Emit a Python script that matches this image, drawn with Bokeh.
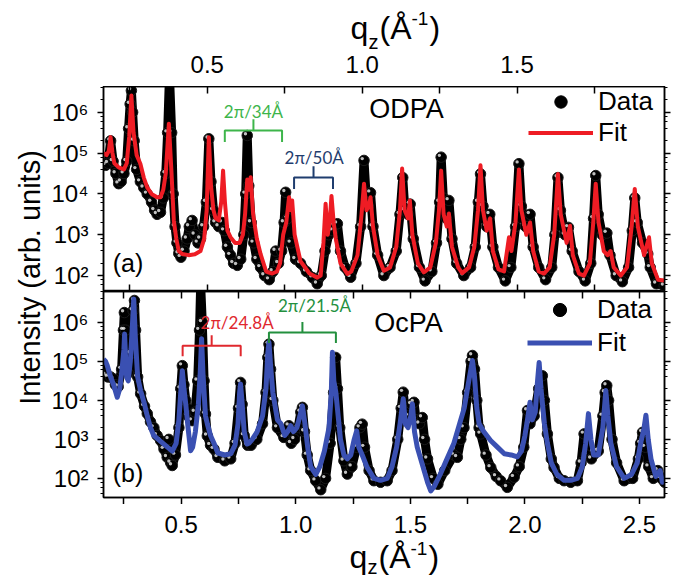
import numpy as np
from math import pi
from bokeh.plotting import figure
from bokeh.models import (Range1d, LinearAxis, LogAxis, LogTicker, FixedTicker, LogScale,
                          CustomJSTickFormatter, Label, Legend, LegendItem)
from bokeh.layouts import row, column
from bokeh.embed import file_html
from bokeh.resources import INLINE

# ---------------------------------------------------------------------------
# Specular reflectivity profiles, (q_z [1/Å], log10 intensity)
# ---------------------------------------------------------------------------
odpa_data = [
    (0.165, 4.72), (0.172, 4.70), (0.180, 4.75), (0.188, 5.30), (0.196, 4.80), (0.205, 4.50),
    (0.214, 4.25), (0.222, 4.30), (0.231, 4.50), (0.240, 4.80), (0.246, 5.60), (0.251, 6.20),
    (0.255, 6.53), (0.259, 6.00), (0.264, 5.30), (0.272, 4.60), (0.284, 4.30), (0.295, 4.15),
    (0.306, 4.00), (0.320, 3.80), (0.330, 3.60), (0.338, 3.50), (0.349, 3.55), (0.358, 3.90),
    (0.366, 4.50), (0.372, 5.50), (0.378, 6.90), (0.385, 5.50), (0.390, 4.00), (0.396, 3.20),
    (0.402, 2.80), (0.408, 2.54), (0.415, 2.45), (0.425, 2.60), (0.435, 2.90), (0.442, 3.20),
    (0.451, 3.35), (0.460, 3.00), (0.470, 2.80), (0.478, 2.90), (0.488, 3.20), (0.497, 3.80),
    (0.505, 5.35), (0.512, 4.30), (0.520, 3.60), (0.527, 3.30), (0.537, 3.20), (0.548, 3.30),
    (0.555, 3.10), (0.565, 2.70), (0.575, 2.50), (0.585, 2.30), (0.597, 2.25), (0.608, 2.40),
    (0.618, 3.00), (0.624, 4.00), (0.629, 5.43), (0.634, 4.20), (0.642, 3.30), (0.650, 2.80),
    (0.660, 2.40), (0.672, 2.20), (0.685, 2.00), (0.700, 1.90), (0.712, 2.10), (0.721, 2.60),
    (0.730, 2.30), (0.740, 2.60), (0.748, 3.30), (0.753, 4.04), (0.760, 3.40), (0.770, 2.80),
    (0.785, 2.40), (0.801, 2.30), (0.820, 2.10), (0.840, 1.95), (0.855, 1.80), (0.868, 2.00),
    (0.880, 2.60), (0.892, 3.00), (0.905, 3.10), (0.920, 3.27), (0.930, 2.60), (0.945, 2.20),
    (0.963, 1.96), (0.980, 2.30), (0.995, 3.20), (1.006, 4.82), (1.014, 3.80), (1.020, 3.70),
    (1.027, 4.03), (1.035, 3.20), (1.050, 2.50), (1.070, 2.00), (1.090, 2.20), (1.110, 2.60),
    (1.122, 3.50), (1.131, 4.40), (1.138, 3.60), (1.148, 3.50), (1.155, 3.75), (1.165, 2.90),
    (1.185, 2.20), (1.203, 1.87), (1.225, 2.10), (1.240, 2.80), (1.250, 3.80), (1.255, 4.90),
    (1.262, 3.90), (1.272, 3.40), (1.280, 3.84), (1.290, 2.90), (1.305, 2.30), (1.328, 2.00),
    (1.350, 2.20), (1.365, 2.70), (1.375, 3.80), (1.382, 4.49), (1.390, 3.70), (1.402, 3.20),
    (1.412, 3.50), (1.422, 2.70), (1.440, 2.20), (1.462, 1.87), (1.480, 2.20), (1.495, 3.20),
    (1.506, 4.74), (1.514, 3.70), (1.528, 3.20), (1.542, 3.50), (1.552, 2.70), (1.570, 2.20),
    (1.592, 1.90), (1.612, 2.20), (1.622, 3.00), (1.632, 4.40), (1.640, 3.60), (1.655, 3.00),
    (1.666, 3.18), (1.678, 2.60), (1.700, 2.10), (1.720, 1.87), (1.738, 2.30), (1.747, 3.40),
    (1.754, 4.45), (1.762, 3.50), (1.775, 3.00), (1.790, 3.04), (1.800, 2.50), (1.820, 2.00),
    (1.840, 1.85), (1.860, 2.20), (1.872, 3.10), (1.880, 3.90), (1.888, 3.30), (1.905, 2.80),
    (1.922, 2.53), (1.930, 2.20), (1.950, 1.80), (1.975, 1.75),
]

odpa_fit = [
    (0.165, 5.00), (0.175, 4.95), (0.182, 5.05), (0.188, 5.39), (0.194, 5.00), (0.200, 4.75),
    (0.214, 4.65), (0.231, 4.60), (0.240, 4.75), (0.248, 5.40), (0.255, 6.41), (0.262, 5.50),
    (0.272, 4.95), (0.284, 4.74), (0.295, 4.40), (0.306, 4.16), (0.320, 4.00), (0.338, 3.92),
    (0.349, 3.92), (0.358, 4.10), (0.366, 4.50), (0.376, 5.72), (0.384, 4.60), (0.392, 3.35),
    (0.400, 2.90), (0.408, 2.60), (0.419, 2.53), (0.440, 2.50), (0.460, 2.52), (0.478, 2.60),
    (0.490, 2.90), (0.498, 3.60), (0.505, 5.39), (0.512, 4.20), (0.520, 3.60), (0.527, 3.40),
    (0.537, 3.35), (0.545, 3.80), (0.551, 4.57), (0.557, 3.80), (0.565, 3.10), (0.575, 2.94),
    (0.590, 2.80), (0.605, 2.80), (0.615, 3.00), (0.622, 3.50), (0.629, 4.35), (0.635, 4.10),
    (0.640, 4.41), (0.648, 3.50), (0.660, 2.90), (0.672, 2.53), (0.690, 2.10), (0.710, 2.05),
    (0.725, 2.10), (0.735, 2.30), (0.745, 3.00), (0.755, 3.30), (0.764, 3.92), (0.769, 3.60),
    (0.774, 3.84), (0.782, 3.00), (0.801, 2.35), (0.830, 2.05), (0.855, 1.95), (0.866, 2.00),
    (0.875, 2.80), (0.882, 3.76), (0.889, 3.00), (0.895, 3.30), (0.901, 3.95), (0.908, 3.30),
    (0.915, 2.90), (0.930, 2.30), (0.952, 2.04), (0.965, 2.10), (0.985, 2.50), (0.998, 3.50),
    (1.006, 4.25), (1.014, 3.60), (1.022, 3.70), (1.027, 3.92), (1.035, 3.20), (1.050, 2.50),
    (1.070, 2.12), (1.090, 2.20), (1.110, 2.70), (1.122, 3.60), (1.129, 4.62), (1.137, 3.60),
    (1.148, 3.40), (1.154, 3.84), (1.162, 3.00), (1.180, 2.30), (1.199, 2.08), (1.220, 2.20),
    (1.238, 2.80), (1.248, 3.60), (1.255, 4.57), (1.263, 3.50), (1.273, 3.20), (1.280, 3.52),
    (1.290, 2.70), (1.310, 2.20), (1.323, 2.06), (1.345, 2.20), (1.362, 2.70), (1.374, 3.60),
    (1.382, 4.70), (1.390, 3.60), (1.402, 3.10), (1.413, 3.40), (1.422, 2.60), (1.440, 2.15),
    (1.458, 2.10), (1.474, 2.94), (1.482, 2.60), (1.495, 3.30), (1.506, 4.60), (1.514, 3.60),
    (1.530, 3.00), (1.542, 3.30), (1.552, 2.60), (1.570, 2.10), (1.587, 2.05), (1.605, 2.20),
    (1.620, 3.00), (1.632, 4.49), (1.641, 3.50), (1.660, 2.80), (1.671, 3.22), (1.680, 2.50),
    (1.700, 2.05), (1.716, 2.00), (1.735, 2.30), (1.746, 3.30), (1.754, 4.25), (1.763, 3.30),
    (1.780, 2.60), (1.792, 2.50), (1.802, 2.60), (1.812, 2.20), (1.835, 2.00), (1.855, 2.20),
    (1.870, 3.20), (1.880, 4.12), (1.890, 3.20), (1.910, 2.50), (1.926, 2.94), (1.935, 2.30),
    (1.955, 1.90), (1.975, 1.88),
]

ocpa_data = [
    (0.161, 4.80), (0.170, 4.65), (0.180, 4.60), (0.192, 4.60), (0.205, 4.55), (0.213, 4.40),
    (0.225, 4.35), (0.240, 4.80), (0.248, 5.80), (0.252, 6.25), (0.257, 5.80), (0.262, 5.00),
    (0.269, 4.70), (0.280, 5.20), (0.290, 6.30), (0.296, 6.56), (0.301, 5.80), (0.310, 4.60),
    (0.323, 4.17), (0.340, 3.85), (0.352, 3.66), (0.366, 3.45), (0.381, 3.30), (0.395, 3.10),
    (0.410, 2.97), (0.425, 2.75), (0.439, 2.54), (0.446, 3.00), (0.454, 2.40), (0.461, 2.33),
    (0.475, 2.60), (0.490, 3.30), (0.498, 4.30), (0.505, 4.89), (0.512, 4.40), (0.520, 4.00),
    (0.530, 3.60), (0.548, 3.48), (0.560, 3.70), (0.572, 4.50), (0.580, 5.80), (0.585, 6.95),
    (0.592, 6.00), (0.600, 4.50), (0.606, 3.65), (0.614, 3.09), (0.628, 2.85), (0.643, 2.75),
    (0.660, 2.54), (0.690, 2.45), (0.716, 2.50), (0.735, 2.90), (0.750, 3.80), (0.759, 4.46),
    (0.766, 3.90), (0.775, 3.10), (0.790, 2.85), (0.805, 2.85), (0.830, 3.00), (0.855, 3.40),
    (0.870, 4.20), (0.878, 5.10), (0.883, 5.44), (0.890, 4.80), (0.900, 4.00), (0.920, 3.30),
    (0.948, 3.05), (0.970, 3.35), (0.980, 2.90), (0.995, 3.00), (1.010, 3.30), (1.022, 3.70),
    (1.029, 3.82), (1.038, 3.20), (1.050, 2.60), (1.065, 2.20), (1.087, 1.94), (1.109, 1.71),
    (1.130, 2.00), (1.150, 2.90), (1.165, 4.20), (1.174, 5.10), (1.182, 4.30), (1.192, 3.30),
    (1.210, 2.45), (1.225, 2.11), (1.245, 2.30), (1.265, 2.80), (1.280, 3.30), (1.290, 3.39),
    (1.300, 2.80), (1.320, 2.20), (1.341, 1.94), (1.370, 1.90), (1.399, 1.94), (1.420, 2.20),
    (1.445, 3.00), (1.460, 3.80), (1.469, 4.21), (1.478, 3.70), (1.490, 3.60), (1.505, 3.90),
    (1.516, 3.95), (1.525, 3.50), (1.540, 3.40), (1.552, 3.56), (1.562, 3.00), (1.575, 2.50),
    (1.600, 2.00), (1.620, 1.85), (1.650, 2.20), (1.690, 2.60), (1.705, 2.54), (1.720, 3.00),
    (1.734, 3.30), (1.750, 4.20), (1.765, 5.00), (1.771, 5.15), (1.780, 4.80), (1.790, 4.00),
    (1.800, 3.30), (1.807, 3.14), (1.830, 2.60), (1.851, 2.28), (1.875, 2.05), (1.894, 1.94),
    (1.923, 1.77), (1.953, 2.03), (1.975, 2.30), (1.995, 2.80), (2.011, 3.74), (2.022, 3.40),
    (2.040, 3.60), (2.060, 4.30), (2.076, 4.63), (2.085, 4.00), (2.098, 3.14), (2.115, 2.50),
    (2.127, 2.28), (2.150, 2.00), (2.171, 1.94), (2.200, 1.90), (2.229, 1.94), (2.245, 2.40),
    (2.258, 3.14), (2.268, 2.60), (2.290, 2.50), (2.320, 2.70), (2.340, 3.60), (2.350, 4.20),
    (2.357, 4.38), (2.365, 4.00), (2.380, 3.00), (2.400, 2.40), (2.433, 1.94), (2.470, 2.00),
    (2.495, 2.50), (2.505, 2.90), (2.513, 3.18), (2.525, 2.80), (2.540, 2.30), (2.560, 2.00),
    (2.580, 2.20), (2.595, 2.00), (2.610, 1.90),
]

ocpa_fit = [
    (0.161, 5.05), (0.170, 5.00), (0.177, 4.90), (0.192, 4.60), (0.205, 4.40), (0.221, 4.08),
    (0.232, 4.30), (0.242, 4.80), (0.250, 5.30), (0.253, 5.70), (0.258, 5.00), (0.262, 4.60),
    (0.269, 4.50), (0.278, 5.00), (0.287, 5.90), (0.293, 6.60), (0.300, 5.60), (0.310, 4.60),
    (0.323, 4.25), (0.340, 3.90), (0.352, 3.60), (0.366, 3.30), (0.380, 3.10), (0.410, 2.95),
    (0.440, 2.80), (0.461, 2.70), (0.478, 2.90), (0.490, 3.50), (0.498, 4.20), (0.505, 4.76),
    (0.512, 4.30), (0.520, 3.90), (0.530, 3.30), (0.541, 2.71), (0.550, 2.80), (0.562, 3.20),
    (0.575, 3.90), (0.583, 4.70), (0.589, 5.58), (0.595, 4.70), (0.606, 3.60), (0.614, 3.40),
    (0.628, 3.10), (0.643, 2.90), (0.660, 2.65), (0.690, 2.60), (0.716, 2.63), (0.735, 2.85),
    (0.748, 3.40), (0.755, 4.20), (0.759, 4.42), (0.765, 4.00), (0.775, 3.20), (0.787, 2.88),
    (0.796, 2.90), (0.810, 3.00), (0.832, 3.20), (0.855, 3.60), (0.870, 4.30), (0.878, 5.20),
    (0.883, 5.49), (0.890, 4.90), (0.900, 4.20), (0.920, 3.50), (0.935, 3.40), (0.952, 3.10),
    (0.965, 3.20), (0.978, 3.35), (0.990, 3.20), (1.005, 3.30), (1.018, 3.60), (1.029, 3.86),
    (1.040, 3.40), (1.052, 2.80), (1.065, 2.30), (1.087, 2.10), (1.105, 2.30), (1.125, 2.70),
    (1.145, 3.30), (1.155, 4.20), (1.160, 5.23), (1.166, 4.50), (1.175, 4.20), (1.185, 3.60),
    (1.195, 3.00), (1.210, 2.60), (1.225, 2.50), (1.240, 2.60), (1.255, 3.00), (1.266, 3.22),
    (1.275, 2.80), (1.290, 2.60), (1.310, 2.30), (1.341, 2.00), (1.370, 1.95), (1.399, 2.00),
    (1.420, 2.30), (1.440, 2.80), (1.455, 3.40), (1.469, 4.04), (1.478, 3.40), (1.490, 3.30),
    (1.502, 3.60), (1.509, 3.91), (1.518, 3.20), (1.530, 2.80), (1.545, 2.50), (1.560, 2.20),
    (1.575, 1.90), (1.589, 1.68), (1.605, 1.80), (1.630, 2.10), (1.660, 2.50), (1.690, 2.90),
    (1.715, 3.40), (1.735, 3.80), (1.755, 4.50), (1.771, 5.02), (1.780, 4.60), (1.790, 3.80),
    (1.800, 3.40), (1.820, 3.20), (1.850, 2.97), (1.880, 2.80), (1.910, 2.63), (1.940, 2.60),
    (1.967, 2.55), (1.985, 2.70), (2.000, 3.10), (2.011, 3.50), (2.022, 3.95), (2.032, 3.50),
    (2.045, 3.70), (2.055, 4.50), (2.062, 4.97), (2.070, 4.30), (2.085, 3.40), (2.098, 2.90),
    (2.115, 2.40), (2.140, 2.10), (2.171, 1.95), (2.200, 1.95), (2.229, 2.00), (2.250, 2.30),
    (2.265, 2.90), (2.277, 3.66), (2.288, 3.00), (2.300, 2.60), (2.320, 2.60), (2.340, 3.30),
    (2.353, 4.25), (2.362, 3.60), (2.375, 2.90), (2.400, 2.30), (2.433, 2.00), (2.465, 2.10),
    (2.490, 2.40), (2.505, 2.90), (2.520, 3.30), (2.528, 3.62), (2.538, 3.00), (2.550, 2.50),
    (2.571, 2.05), (2.590, 2.20), (2.600, 1.90), (2.610, 1.95),
]

# Bilayer periodicity markers: d-spacing (Å), bracket centre q, bracket level (log10 I),
# label q, label level (log10 I), colour
odpa_periods = [
    (34, 0.649, 5.55, 0.649, 6.02, "#3db54a"),
    (50, 0.843, 4.40, 0.845, 4.89, "#1f3d6e"),
]
ocpa_periods = [
    (24.8, 0.633, 5.40, 0.744, 6.00, "#e0282e"),
    (21.5, 1.029, 5.74, 1.082, 6.43, "#23903e"),
]

# Axis limits: q range and log10 intensity range for each panel
odpa_q_lim = (0.165, 1.976)
odpa_log_lim = (1.61, 6.63)
ocpa_q_lim = (0.161, 2.609)
ocpa_log_lim = (1.51, 6.79)

q_ticks = [0.25, 0.5, 0.75, 1.0, 1.25, 1.5, 1.75, 2.0, 2.25, 2.5]

# ---------------------------------------------------------------------------
FONT = "Liberation Sans"
NOTE_FONT = "Lato"
TICK_SIZE = "24px"
W_LABEL = 48
W_MAIN = 677 - W_LABEL
FRAME_W = 561
BORDER_L, BORDER_R = 55, 13

LOG_FMT = CustomJSTickFormatter(code="""
const s = {"0":"\u2070","1":"\u00b9","2":"\u00b2","3":"\u00b3","4":"\u2074",
           "5":"\u2075","6":"\u2076","7":"\u2077","8":"\u2078","9":"\u2079","-":"\u207b"};
const e = Math.round(Math.log10(tick));
return "10" + String(e).split("").map(c => s[c]).join("");
""")
HALF_FMT = CustomJSTickFormatter(code="""
const k = tick * 2;
return Math.abs(k - Math.round(k)) < 1e-6 ? tick.toFixed(1) : "";
""")
BLANK_FMT = CustomJSTickFormatter(code="return '';")


def style_axis(ax, tick_in, tick_out, standoff, labelled, minor_out=0, line=True):
    ax.axis_line_color = "black" if line else None
    ax.axis_line_width = 1.5
    ax.major_tick_line_color = "black"
    ax.major_tick_line_width = 1.5
    ax.minor_tick_line_color = "black"
    ax.minor_tick_line_width = 1
    ax.major_tick_in = tick_in
    ax.major_tick_out = tick_out
    ax.minor_tick_in = 0
    ax.minor_tick_out = minor_out
    ax.major_label_standoff = standoff
    ax.major_label_text_font = FONT
    ax.major_label_text_color = "black"
    ax.major_label_text_font_size = TICK_SIZE if labelled else "0px"


def q_axis(formatter):
    return LinearAxis(ticker=FixedTicker(ticks=q_ticks, minor_ticks=[]), formatter=formatter)


def make_panel(height, q_lim, log_lim, bottom_tick_out):
    p = figure(width=W_MAIN, height=height,
               x_range=Range1d(*q_lim), y_range=Range1d(10 ** log_lim[0], 10 ** log_lim[1]),
               y_axis_type="log", x_axis_location=None, y_axis_location=None,
               toolbar_location=None, output_backend="svg",
               min_border_left=BORDER_L, min_border_right=BORDER_R,
               min_border_top=0, min_border_bottom=bottom_tick_out)
    p.grid.visible = False
    p.outline_line_color = "black"
    p.outline_line_width = 1.5
    p.background_fill_color = "white"
    p.border_fill_color = "white"

    ax = q_axis(BLANK_FMT)
    style_axis(ax, 7, 0, 0, False)
    p.add_layout(ax, "above")
    ax = q_axis(BLANK_FMT)
    if bottom_tick_out:
        style_axis(ax, 0, bottom_tick_out, 0, False)
    else:
        style_axis(ax, 7, 0, 0, False)
    p.add_layout(ax, "below")

    for side in ("left", "right"):
        lab = side == "left"
        ax = LogAxis(ticker=LogTicker(), formatter=LOG_FMT if lab else BLANK_FMT)
        style_axis(ax, 0, 6, 9 if lab else 0, lab, minor_out=3)
        p.add_layout(ax, side)

    # shifted copies of the scales, used for the specular highlight on each sphere
    frame_h = height - bottom_tick_out
    dq = 1.8 * (q_lim[1] - q_lim[0]) / FRAME_W
    k = 10 ** (1.8 * (log_lim[1] - log_lim[0]) / frame_h)
    p.extra_x_ranges = {"hl": Range1d(q_lim[0] + dq, q_lim[1] + dq)}
    p.extra_y_ranges = {"hl": Range1d(10 ** log_lim[0] / k, 10 ** log_lim[1] / k)}
    p.extra_y_scales = {"hl": LogScale()}
    return p


def draw_profiles(p, data, fit, fit_color, fit_width):
    dq, dl = zip(*data)
    fq, fl = zip(*fit)
    di = 10 ** np.array(dl)
    fi = 10 ** np.array(fl)
    p.line(list(dq), di, line_color="black", line_width=9, line_join="round")
    p.scatter(list(dq), di, marker="circle", size=10.5, fill_color="black", line_color="#1a1a1a")
    p.scatter(list(dq), di, marker="circle", size=3.4, fill_color="white", fill_alpha=0.75,
              line_color=None, x_range_name="hl", y_range_name="hl")
    fit_r = p.line(list(fq), fi, line_color=fit_color, line_width=fit_width, line_join="round")
    # legend swatch: one sphere placed outside the visible q range
    dot_r = p.scatter([-1.0], [1e4], marker="circle", size=10, fill_color="black",
                      line_color="black")
    return dot_r, fit_r


def add_legend(p, dot_r, fit_r, x, y, row_h):
    leg = Legend(items=[LegendItem(label="Data", renderers=[dot_r]),
                        LegendItem(label="Fit", renderers=[fit_r])],
                 location=(x, y), orientation="vertical",
                 border_line_color=None, background_fill_alpha=0,
                 label_text_font=FONT, label_text_font_size="26px", label_text_color="black",
                 glyph_width=65, glyph_height=row_h, label_height=row_h,
                 spacing=0, padding=0, margin=0, label_standoff=5)
    p.add_layout(leg, "center")


def add_periods(p, periods, tick):
    for d, qc, lev, lq, ll, color in periods:
        half = pi / d
        xl, xr = qc - half, qc + half
        ys = [10 ** (lev - tick), 10 ** lev, 10 ** lev, 10 ** (lev - tick)]
        p.line([xl, xl, xr, xr], ys, line_color=color, line_width=2)
        p.line([qc, qc], [10 ** lev, 10 ** (lev + tick)], line_color=color, line_width=2)
        p.add_layout(Label(x=lq, y=10 ** ll, text=f"2\u03c0/{d}\u00c5", text_align="center",
                           text_baseline="middle", text_color=color, text_font=NOTE_FONT,
                           text_font_size="17px"))


def add_text(p, x, y, text, size, align="center", baseline="middle", angle=0.0):
    p.add_layout(Label(x=x, y=y, x_units="screen", y_units="screen", text=text, angle=angle,
                       text_align=align, text_baseline=baseline, text_font=FONT,
                       text_font_size=size, text_color="black"))


def strip(width, height, x_range=None, border_top=0, border_bottom=0, side_borders=False):
    s = figure(width=width, height=height,
               x_range=x_range if x_range is not None else Range1d(0, 1),
               y_range=Range1d(0, 1), x_axis_location=None, y_axis_location=None,
               toolbar_location=None, output_backend="svg", min_border=0,
               min_border_top=border_top, min_border_bottom=border_bottom,
               min_border_left=BORDER_L if side_borders else 0,
               min_border_right=BORDER_R if side_borders else 0)
    s.grid.visible = False
    s.outline_line_color = None
    s.scatter([-5.0], [0.5], size=1, alpha=0)
    return s


def q_title(s, x0, mid, sub_dy, sup_dy):
    # q_z(Å^-1), with the subscript and superscript set as separate pieces
    for txt, dx, dy, size in (("q", 0, 0, 32), ("z", 18, sub_dy, 20), ("(\u00c5", 29, 0, 32),
                              ("-1", 61, sup_dy, 19), (")", 79, 0, 32)):
        add_text(s, x0 + dx, mid + dy, txt, f"{size}px", align="left")


# ---- top panel: ODPA --------------------------------------------------------
top = make_panel(205, odpa_q_lim, odpa_log_lim, 0)
d_r, f_r = draw_profiles(top, odpa_data, odpa_fit, "#ee1c24", 4)
add_periods(top, odpa_periods, 0.28)
add_legend(top, d_r, f_r, 425, 143, 31)
add_text(top, 303, 183, "ODPA", "27px")
add_text(top, 24.5, 29, "(a)", "25px")

# header: q scale labels of the ODPA panel and the axis title
top_head = strip(W_MAIN, 86, x_range=top.x_range, border_bottom=34, side_borders=True)
ax = q_axis(HALF_FMT)
style_axis(ax, 0, 0, 3, True, line=False)
top_head.add_layout(ax, "below")
q_title(top_head, 247, 25, -14, 9)

# ---- bottom panel: OcPA -----------------------------------------------------
bot = make_panel(213, ocpa_q_lim, ocpa_log_lim, 7)
d_r, f_r = draw_profiles(bot, ocpa_data, ocpa_fit, "#3a50b2", 5)
add_periods(bot, ocpa_periods, 0.27)
add_legend(bot, d_r, f_r, 424, 138, 33)
add_text(bot, 305, 175, "OcPA", "27px")
add_text(bot, 24.5, 25, "(b)", "25px")

# footer: q scale labels of the OcPA panel and the axis title
bot_foot = strip(W_MAIN, 74, x_range=bot.x_range, border_top=34, side_borders=True)
ax = q_axis(HALF_FMT)
style_axis(ax, 0, 0, 6, True, line=False)
bot_foot.add_layout(ax, "above")
q_title(bot_foot, 246, 22, -10, 8)

# ---- shared intensity label ---------------------------------------------------
ylab = strip(W_LABEL, 578)
add_text(ylab, 29, 301, "Intensity (arb. units)", "29px", angle=pi / 2)

layout = row(ylab, column(top_head, top, bot, bot_foot))
open("out.html", "w").write(file_html(layout, INLINE))
